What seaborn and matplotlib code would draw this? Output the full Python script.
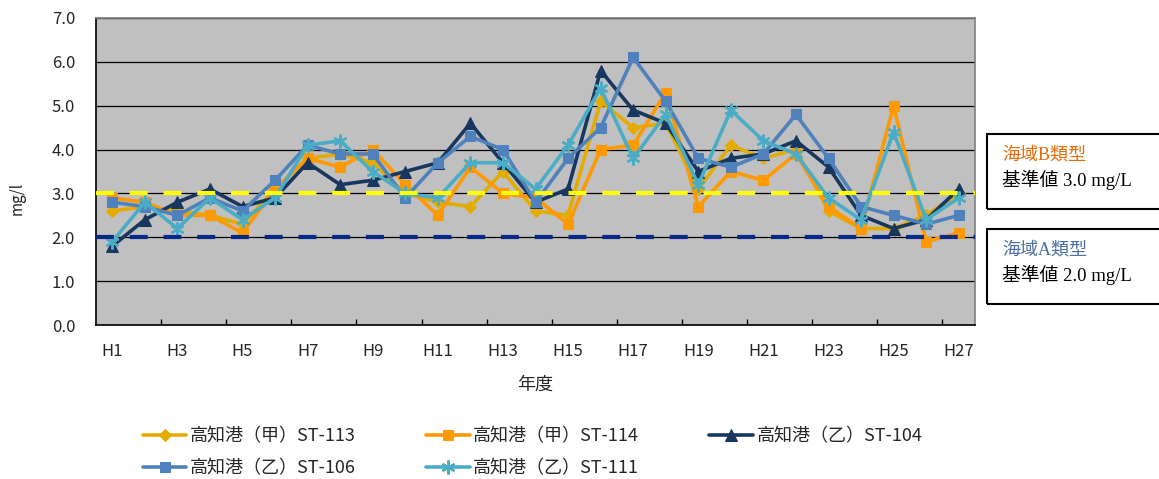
import numpy as np
import pandas as pd
import seaborn as sns
import matplotlib.pyplot as plt
from matplotlib.patches import Rectangle

# 年度 H1..H27 と各地点の COD (mg/l)
years = [f'H{i}' for i in range(1, 28)]
st113 = [2.6, 2.7, 2.6, 2.5, 2.3, 3.1, 3.8, 3.9, 3.7, 3.0, 2.8, 2.7, 3.5, 2.6,
         2.5, 5.1, 4.5, 4.6, 3.1, 4.1, 3.8, 4.0, 2.6, 2.2, 2.2, 2.5, 3.0]
st114 = [2.9, 2.8, 2.5, 2.5, 2.1, 3.1, 3.8, 3.6, 4.0, 3.2, 2.5, 3.6, 3.0, 2.9,
         2.3, 4.0, 4.1, 5.3, 2.7, 3.5, 3.3, 3.9, 2.7, 2.2, 5.0, 1.9, 2.1]
st104 = [1.8, 2.4, 2.8, 3.1, 2.7, 2.9, 3.7, 3.2, 3.3, 3.5, 3.7, 4.6, 3.7, 2.8,
         3.1, 5.8, 4.9, 4.6, 3.5, 3.8, 3.9, 4.2, 3.6, 2.5, 2.2, 2.4, 3.1]
st106 = [2.8, 2.7, 2.5, 2.9, 2.6, 3.3, 4.1, 3.9, 3.9, 2.9, 3.7, 4.3, 4.0, 2.8,
         3.8, 4.5, 6.1, 5.1, 3.8, 3.6, 3.9, 4.8, 3.8, 2.7, 2.5, 2.3, 2.5]
st111 = [1.9, 2.8, 2.2, 2.9, 2.4, 2.9, 4.1, 4.2, 3.5, 3.0, 2.9, 3.7, 3.7, 3.1,
         4.1, 5.4, 3.8, 4.8, 3.2, 4.9, 4.2, 3.9, 2.9, 2.4, 4.4, 2.4, 2.9]

names = ['高知港（甲）ST-113', '高知港（甲）ST-114', '高知港（乙）ST-104',
         '高知港（乙）ST-106', '高知港（乙）ST-111']
colors = ['#E5AC00', '#FF9900', '#17375E', '#4F81BD', '#4BACC6']
markers = ['D', 's', '^', 's', (6, 2, 0)]
msizes = [6, 7.5, 9, 7.5, 10]

std_b = 3.0   # 海域B類型
std_a = 2.0   # 海域A類型

rows = []
for name, vals in zip(names, [st113, st114, st104, st106, st111]):
    for i, v in enumerate(vals):
        rows.append({'series': name, 'pos': i, 'year': years[i], 'cod': v})
df = pd.DataFrame(rows)

sns.set_style('white')
plt.rcParams['font.family'] = ['Noto Sans CJK JP', 'DejaVu Sans']

fig = plt.figure(figsize=(11.59, 4.79), dpi=100)
ax = fig.add_axes([96 / 1159, 154 / 479, 879 / 1159, 307 / 479])
ax.set_facecolor('#C0C0C0')

for name, c, m, ms in zip(names, colors, markers, msizes):
    sub = df[df['series'] == name]
    kw = dict(marker=m, markersize=ms, color=c, linewidth=2.6,
              markeredgecolor=c, markerfacecolor=c, label=name)
    if isinstance(m, tuple):
        kw['markeredgewidth'] = 1.6
    sns.lineplot(data=sub, x='pos', y='cod', ax=ax, **kw)

ax.axhline(std_b, color='#FFFF00', lw=3, dashes=(4.3, 3.8), zorder=6)
ax.axhline(std_a, color='#062A86', lw=3, dashes=(4.3, 3.8), zorder=6)

ax.set_xlim(-0.5, len(years) - 0.5)
ax.set_ylim(0, 7)
ax.set_yticks(np.arange(0, 8))
ax.set_yticklabels([f'{v:.1f}' for v in np.arange(0, 8)])
ax.set_xticks(np.arange(0, len(years), 2))
ax.set_xticklabels(years[::2])
ax.set_xticks(np.arange(1.5, len(years) - 1, 2), minor=True)
ax.tick_params(axis='both', which='major', length=0, labelsize=12)
ax.tick_params(axis='y', pad=15)
ax.tick_params(axis='x', pad=13)
ax.tick_params(axis='x', which='minor', direction='in', length=4, width=1,
               color='#000000', bottom=True)
ax.yaxis.grid(True, color='#000000', lw=0.9)
ax.xaxis.grid(False)
ax.set_axisbelow(True)
ax.set_xlabel('')
ax.set_ylabel('')
for side in ['left', 'bottom']:
    ax.spines[side].set_color('#000000')
    ax.spines[side].set_linewidth(1.2)
for side in ['top', 'right']:
    ax.spines[side].set_color('#808080')
    ax.spines[side].set_linewidth(1.2)

fig.text(17 / 1159, 1 - 198 / 479, 'mg/l', rotation=90, fontsize=11,
         ha='center', va='center')
fig.text(535 / 1159, 1 - 385 / 479, '年度', fontsize=13, ha='center', va='center')

handles, labels = ax.get_legend_handles_labels()
if ax.get_legend() is not None:
    ax.get_legend().remove()
order = [0, 3, 1, 4, 2]
fig.legend([handles[i] for i in order], [labels[i] for i in order], ncol=3,
           loc='upper left', bbox_to_anchor=(143 / 1159, 1 - 427 / 479),
           frameon=False, fontsize=13, handlelength=2.4, handletextpad=0.2,
           columnspacing=3.9, labelspacing=0.8, borderpad=0, borderaxespad=0)

# 基準値の注記ボックス
for y0, y1, title, tcolor, val in [(134, 209, '海域B類型', '#E46C0A', '基準値 3.0 mg/L'),
                                   (229, 304, '海域A類型', '#4A6FA5', '基準値 2.0 mg/L')]:
    fig.add_artist(Rectangle((987 / 1159, 1 - y1 / 479), 200 / 1159, (y1 - y0) / 479,
                             transform=fig.transFigure, fill=False,
                             edgecolor='#000000', lw=1.5))
    fig.text(1002 / 1159, 1 - (y0 + 21) / 479, title, color=tcolor, fontsize=13,
             ha='left', va='center', family=['Liberation Serif', 'Noto Sans CJK JP'])
    fig.text(1002 / 1159, 1 - (y0 + 46) / 479, val, color='#000000', fontsize=13.5,
             ha='left', va='center', family=['Liberation Serif', 'Noto Sans CJK JP'])

fig.savefig('out.png', dpi=100)
